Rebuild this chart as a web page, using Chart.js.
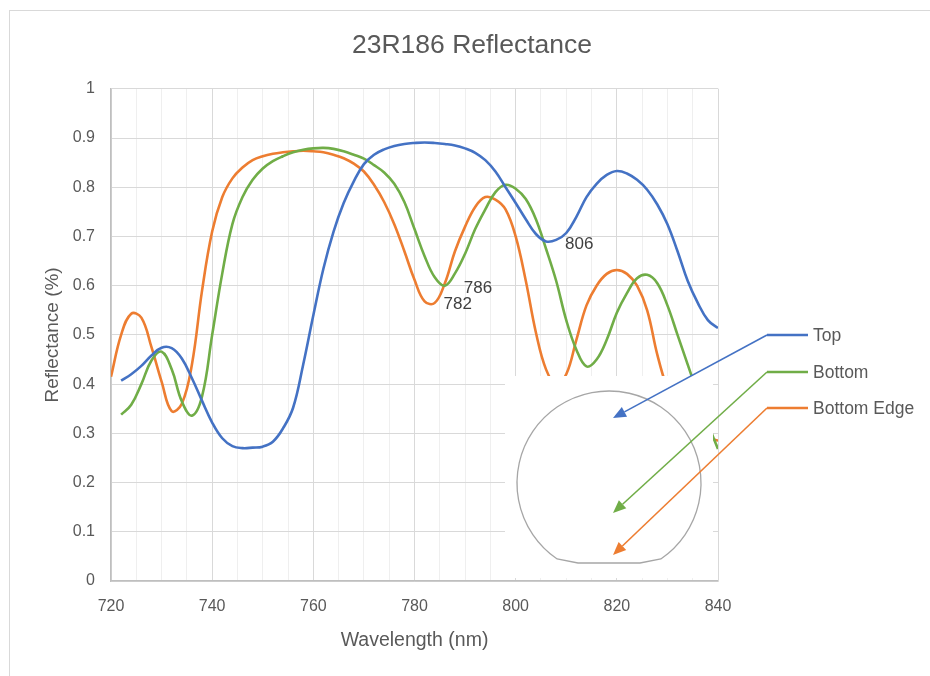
<!DOCTYPE html>
<html>
<head>
<meta charset="utf-8">
<script src="https://cdn.jsdelivr.net/npm/chart.js@4"></script>
<style>
  html, body { margin: 0; padding: 0; background: #fff; }
  canvas { display: block; }
</style>
</head>
<body>
<canvas id="chart" width="930" height="676"></canvas>
<script>
const wavelengths = [720, 722, 724, 726, 728, 730, 732, 734, 736, 738, 740, 742, 744, 746, 748, 750, 752, 754, 756, 758,
  760, 762, 764, 766, 768, 770, 772, 774, 776, 778, 780, 782, 784, 786, 788, 790, 792, 794, 796, 798,
  800, 802, 804, 806, 808, 810, 812, 814, 816, 818, 820, 822, 824, 826, 828, 830, 832, 834, 836, 838, 840];

const topValues = [null, 0.407, 0.42, 0.437, 0.458, 0.474, 0.473, 0.452, 0.412, 0.366, 0.322, 0.29, 0.274, 0.27, 0.271, 0.273, 0.283, 0.31, 0.352, 0.44,
  0.54, 0.635, 0.71, 0.768, 0.812, 0.847, 0.866, 0.877, 0.884, 0.888, 0.89, 0.891, 0.89, 0.888, 0.885, 0.879, 0.87, 0.855, 0.832, 0.8,
  0.768, 0.735, 0.705, 0.69, 0.693, 0.707, 0.74, 0.78, 0.807, 0.825, 0.833, 0.828, 0.815, 0.795, 0.765, 0.725, 0.67, 0.61, 0.565, 0.53, 0.514];

const bottomValues = [null, 0.338, 0.358, 0.4, 0.448, 0.466, 0.43, 0.365, 0.336, 0.375, 0.5, 0.625, 0.725, 0.78, 0.815, 0.838, 0.853, 0.863, 0.871, 0.876,
  0.879, 0.88, 0.878, 0.873, 0.866, 0.858, 0.845, 0.83, 0.807, 0.77, 0.715, 0.66, 0.617, 0.6, 0.625, 0.665, 0.715, 0.755, 0.79, 0.805,
  0.797, 0.776, 0.735, 0.675, 0.61, 0.53, 0.47, 0.436, 0.45, 0.49, 0.545, 0.585, 0.615, 0.622, 0.605, 0.56, 0.5, 0.44, 0.38, 0.32, 0.268];

const edgeValues = [0.415, 0.5, 0.543, 0.535, 0.475, 0.405, 0.345, 0.36, 0.44, 0.59, 0.71, 0.78, 0.818, 0.84, 0.855, 0.863, 0.868, 0.871, 0.873, 0.874,
  0.873, 0.871, 0.866, 0.859, 0.848, 0.832, 0.805, 0.77, 0.725, 0.67, 0.612, 0.568, 0.565, 0.605, 0.67, 0.72, 0.76, 0.78, 0.775, 0.755,
  0.7, 0.61, 0.505, 0.43, 0.4, 0.42, 0.49, 0.56, 0.6, 0.624, 0.632, 0.624, 0.6, 0.55, 0.46, 0.39, 0.345, 0.32, 0.305, 0.293, 0.285];

const seriesNames = ['Top', 'Bottom', 'Bottom Edge'];
const seriesColors = ['#4472C4', '#70AD47', '#ED7D31'];
// wavelength of the point each series is labelled at
const labelledAt = [806, 786, 782];

const textColor = '#595959';
const font = "'Liberation Sans', Arial, sans-serif";

function toPoints(values) {
  return wavelengths.map((w, i) => ({ x: w, y: values[i] }));
}

// outer frame of the chart
const framePlugin = {
  id: 'frame',
  beforeDraw(chart) {
    const ctx = chart.ctx;
    ctx.save();
    ctx.fillStyle = '#fff';
    ctx.fillRect(0, 0, chart.width, chart.height);
    ctx.strokeStyle = '#d9d9d9';
    ctx.lineWidth = 1;
    ctx.strokeRect(9.5, 10.5, chart.width + 20, chart.height + 20);
    ctx.restore();
  },
  afterDatasetsDraw(chart) {
    const ctx = chart.ctx;
    const a = chart.chartArea;
    ctx.save();
    ctx.strokeStyle = '#d9d9d9';
    ctx.lineWidth = 1;
    ctx.beginPath();
    ctx.moveTo(Math.round(a.right) + 0.5, a.top);
    ctx.lineTo(Math.round(a.right) + 0.5, a.bottom);
    ctx.stroke();
    ctx.restore();
  }
};

// labels next to marked points
const pointLabelPlugin = {
  id: 'pointLabels',
  afterDatasetsDraw(chart) {
    const ctx = chart.ctx;
    ctx.save();
    ctx.font = '17px ' + font;
    ctx.fillStyle = '#404040';
    ctx.textBaseline = 'middle';
    labelledAt.forEach((w, di) => {
      const idx = wavelengths.indexOf(w);
      const pt = chart.getDatasetMeta(di).data[idx];
      ctx.fillText(String(w), pt.x + 19, pt.y + 3);
    });
    ctx.restore();
  }
};

function arrow(ctx, x1, y1, x2, y2, color) {
  const ang = Math.atan2(y2 - y1, x2 - x1);
  const len = 13, half = 5.5;
  const bx = x2 - len * Math.cos(ang), by = y2 - len * Math.sin(ang);
  ctx.strokeStyle = color;
  ctx.fillStyle = color;
  ctx.lineWidth = 1.6;
  ctx.beginPath();
  ctx.moveTo(x1, y1);
  ctx.lineTo(bx, by);
  ctx.stroke();
  ctx.beginPath();
  ctx.moveTo(x2, y2);
  ctx.lineTo(bx + half * Math.sin(ang), by - half * Math.cos(ang));
  ctx.lineTo(bx - half * Math.sin(ang), by + half * Math.cos(ang));
  ctx.closePath();
  ctx.fill();
}

// wafer sketch with the legend arrows
const waferPlugin = {
  id: 'wafer',
  afterDraw(chart) {
    const ctx = chart.ctx;
    ctx.save();
    ctx.fillStyle = '#fff';
    ctx.fillRect(505, 376, 208, 202);

    const cx = 609, cy = 483, r = 92;
    const flatY = 563, cutY = 559;
    const dx = Math.sqrt(r * r - (cutY - cy) * (cutY - cy));
    const a0 = Math.atan2(cutY - cy, dx);
    const a1 = Math.PI - a0;
    ctx.strokeStyle = '#a6a6a6';
    ctx.lineWidth = 1.3;
    ctx.beginPath();
    ctx.arc(cx, cy, r, a1, a0 + 2 * Math.PI, false);
    ctx.lineTo(640, flatY);
    ctx.lineTo(578, flatY);
    ctx.closePath();
    ctx.stroke();

    const rows = [335, 372, 408];
    const tips = [[613, 418], [613, 513], [613, 555]];
    ctx.font = '17.5px ' + font;
    ctx.textBaseline = 'middle';
    rows.forEach((y, i) => {
      const c = seriesColors[i];
      ctx.strokeStyle = c;
      ctx.lineWidth = 2.6;
      ctx.beginPath();
      ctx.moveTo(767, y);
      ctx.lineTo(808, y);
      ctx.stroke();
      arrow(ctx, 767, y, tips[i][0], tips[i][1], c);
      ctx.fillStyle = textColor;
      ctx.fillText(seriesNames[i], 813, y + 1);
    });
    ctx.restore();
  }
};

const valueSets = [topValues, bottomValues, edgeValues];

new Chart(document.getElementById('chart'), {
  type: 'line',
  data: {
    datasets: valueSets.map((vals, i) => ({
      label: seriesNames[i],
      data: toPoints(vals),
      borderColor: seriesColors[i],
      backgroundColor: seriesColors[i],
      borderWidth: 2.6,
      pointRadius: 0,
      tension: 0.4,
      spanGaps: false,
      yAxisID: 'y'
    }))
  },
  options: {
    responsive: false,
    animation: false,
    layout: { padding: { left: 14, right: 0, top: 0, bottom: 0 } },
    plugins: {
      legend: { display: false },
      tooltip: { enabled: false },
      title: {
        display: true,
        text: '23R186 Reflectance',
        color: textColor,
        font: { family: font, size: 26.5, weight: 'normal' },
        padding: { top: 30, bottom: 27 }
      }
    },
    scales: {
      x: {
        type: 'linear',
        min: 720,
        max: 840,
        afterFit(scale) { scale.height = 95; },
        ticks: {
          stepSize: 5,
          autoSkip: false,
          maxRotation: 0,
          padding: 16,
          color: textColor,
          font: { family: font, size: 16 },
          callback: v => (v % 20 === 0 ? String(v) : '')
        },
        grid: {
          drawTicks: false,
          color: c => (c.tick && c.tick.value % 20 === 0 ? '#d9d9d9' : '#efefef')
        },
        border: { color: '#bfbfbf', width: 1.5 },
        title: {
          display: true,
          text: 'Wavelength (nm)',
          color: textColor,
          font: { family: font, size: 19.5 },
          padding: { top: 0, bottom: 24 }
        }
      },
      y: {
        min: 0,
        max: 1,
        afterFit(scale) { scale.width = 97; },
        ticks: {
          stepSize: 0.1,
          padding: 16,
          color: textColor,
          font: { family: font, size: 16 },
          callback: v => String(+v.toFixed(1))
        },
        grid: { drawTicks: false, color: '#d9d9d9' },
        border: { color: '#bfbfbf', width: 1.5 },
        title: {
          display: true,
          text: 'Reflectance (%)',
          color: textColor,
          font: { family: font, size: 19 },
          padding: { top: 27, bottom: 0 }
        }
      },
      // empty right-hand box that keeps room for the legend
      side: {
        position: 'right',
        afterFit(scale) { scale.width = 212; },
        ticks: { display: false },
        grid: { display: false, drawOnChartArea: false },
        border: { display: false }
      }
    }
  },
  plugins: [framePlugin, pointLabelPlugin, waferPlugin]
});
</script>
</body>
</html>
